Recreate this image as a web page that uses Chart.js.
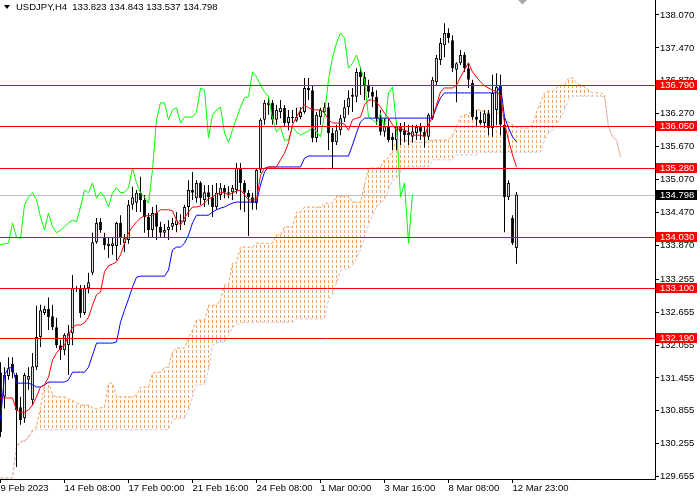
<!DOCTYPE html>
<html>
  <head>
    <meta charset="utf-8" />
    <title>USDJPY,H4</title>
    <style>
      html, body { margin: 0; padding: 0; background: #fff; }
      #wrap { width: 700px; height: 500px; }
    </style>
  </head>
  <body>
    <div id="wrap"><canvas id="chart" width="700" height="500"></canvas></div>
    <script src="https://cdn.jsdelivr.net/npm/chart.js"></script>
    <script>
      // H4 candles, bar 0 = 9 Feb 2023, bar 129 = 13 Mar 03:00
      const opens = [
        131.56,131.11,131.49,131.71,131.51,130.92,130.72,131.42,131.05,131.65,
        132.20,132.64,132.71,132.58,132.38,132.05,131.96,132.05,132.27,133.09,
        133.08,132.64,133.09,133.37,133.93,134.30,134.02,133.86,133.86,133.86,
        134.28,133.91,133.97,134.61,134.65,134.83,134.70,134.39,134.15,134.46,
        134.21,134.10,134.15,134.21,134.24,134.33,134.30,134.57,134.88,134.73,
        135.01,134.70,134.84,134.75,134.57,134.79,134.92,134.81,134.84,134.88,
        135.28,135.01,134.83,134.75,134.64,135.25,136.16,136.43,136.47,136.16,
        136.30,136.38,136.10,136.19,136.14,136.21,136.30,136.74,136.70,135.83,
        136.21,136.30,136.39,135.92,135.75,135.97,136.19,136.39,136.61,136.58,
        137.03,136.94,136.79,136.67,136.58,136.19,135.94,136.03,135.85,135.79,
        136.03,135.97,135.88,135.85,135.92,136.03,135.94,135.85,136.19,136.85,
        137.25,137.52,137.74,137.61,137.07,137.19,137.34,137.10,136.83,136.21,
        136.16,136.10,136.28,136.01,136.34,136.79,136.07,134.75,134.37,133.823
      ];
      const highs = [
        131.74,131.65,131.83,131.83,131.55,131.11,131.55,131.65,131.91,132.77,
        132.79,132.77,132.92,132.79,132.55,132.15,132.27,132.42,133.33,133.13,
        133.15,133.15,133.37,134.10,134.37,134.37,134.10,134.01,134.02,134.30,
        134.42,134.08,134.70,134.94,134.88,135.12,134.79,134.46,134.57,134.61,
        134.30,134.26,134.33,134.37,134.48,134.44,134.61,135.06,135.21,135.06,
        135.04,134.97,134.97,134.97,135.01,135.01,134.97,134.95,134.97,135.37,
        135.37,135.06,134.88,134.83,135.28,136.19,136.52,136.56,136.52,136.43,
        136.52,136.43,136.34,136.34,136.38,136.39,136.92,136.92,136.79,136.30,
        136.38,136.47,136.47,136.01,136.07,136.25,136.52,136.70,136.74,137.10,
        137.12,137.03,136.89,136.76,136.70,136.34,136.19,136.19,135.92,136.12,
        136.10,136.12,136.07,136.07,136.07,136.10,136.03,136.28,136.94,137.34,
        137.65,137.92,137.83,137.70,137.21,137.43,137.39,137.19,136.89,136.34,
        136.30,136.34,136.34,136.98,137.01,136.98,136.19,135.06,134.42,134.843
      ];
      const lows = [
        130.38,130.90,131.42,131.45,129.83,130.60,130.64,131.24,130.96,131.60,
        132.02,132.60,132.33,132.33,132.00,131.78,131.87,131.51,132.05,133.02,
        132.55,132.60,133.00,133.33,133.90,134.10,133.79,133.64,133.70,133.60,
        133.88,133.75,133.90,134.52,134.48,134.48,134.10,134.02,134.02,133.97,
        134.01,134.01,133.97,134.15,134.11,134.15,134.24,134.39,134.70,134.65,
        134.61,134.57,134.61,134.39,134.52,134.70,134.73,134.73,134.70,134.81,
        134.52,134.48,134.04,134.52,134.52,135.19,136.07,136.25,136.07,136.07,
        136.19,136.03,135.97,136.10,136.12,136.17,136.27,136.52,135.75,135.75,
        136.07,136.25,135.61,135.28,135.70,135.88,136.12,136.25,136.30,136.48,
        136.61,136.52,136.56,136.39,136.07,135.88,135.85,135.75,135.61,135.61,
        135.70,135.75,135.70,135.74,135.79,135.79,135.65,135.79,136.16,136.79,
        137.16,137.30,137.56,137.03,136.48,137.16,137.03,136.74,136.16,136.03,
        136.07,136.01,135.88,135.85,136.07,135.88,134.11,134.70,133.88,133.537
      ];
      const closes = [
        130.47,131.51,131.63,131.56,130.87,130.69,131.51,131.49,131.67,132.20,
        132.69,132.71,132.56,132.38,132.05,131.96,132.24,132.27,133.09,133.08,
        132.64,133.09,133.20,133.93,134.28,134.15,133.88,133.90,133.91,134.28,
        134.02,134.00,134.61,134.75,134.83,134.70,134.39,134.15,134.46,134.21,
        134.10,134.15,134.21,134.28,134.33,134.30,134.57,134.88,134.83,135.01,
        134.73,134.84,134.75,134.57,134.83,134.92,134.83,134.84,134.92,135.28,
        135.01,134.83,134.75,134.64,135.25,136.16,136.47,136.47,136.16,136.34,
        136.38,136.10,136.21,136.21,136.21,136.30,136.74,136.70,135.83,136.25,
        136.34,136.39,135.92,135.75,135.97,136.19,136.39,136.56,136.58,137.03,
        136.94,136.79,136.67,136.58,136.19,135.94,136.03,135.79,135.79,136.03,
        135.94,135.88,135.92,135.95,136.03,135.94,135.85,136.25,136.89,137.29,
        137.56,137.74,137.65,137.10,137.19,137.34,137.10,136.89,136.21,136.16,
        136.10,136.28,136.01,136.65,136.76,136.07,134.75,135.01,133.91,134.798
      ];

      // Ichimoku lines
      const tenkan = [
        131.09,131.09,131.09,131.09,130.87,130.83,130.83,130.87,130.96,131.11,
        131.29,131.33,131.47,131.78,131.91,132.00,132.05,132.24,132.38,132.42,
        132.42,132.46,132.56,132.78,132.97,133.02,133.39,133.50,133.53,133.57,
        133.70,133.91,134.10,134.21,134.30,134.37,134.41,134.41,134.42,134.46,
        134.52,134.52,134.52,134.50,134.33,134.24,134.37,134.48,134.57,134.57,
        134.59,134.64,134.72,134.75,134.81,134.83,134.83,134.79,134.83,134.86,
        134.88,134.79,134.70,134.70,134.70,135.15,135.28,135.30,135.30,135.30,
        135.43,135.55,135.74,136.07,136.21,136.34,136.43,136.38,136.34,136.34,
        136.34,136.28,136.16,136.10,136.10,136.10,136.08,135.97,136.16,136.19,
        136.21,136.43,136.52,136.52,136.48,136.39,136.28,136.19,136.07,135.97,
        136.01,135.97,135.94,135.88,135.88,135.88,135.85,136.07,136.21,136.43,
        136.67,136.74,136.74,136.74,136.79,136.94,137.07,137.20,137.03,136.94,
        136.85,136.78,136.74,136.70,136.67,136.61,136.10,135.79,135.52,135.30
      ];
      const kijun = [
        130.69,131.51,131.64,131.64,131.36,131.36,131.36,131.36,131.33,131.29,
        131.29,131.33,131.38,131.38,131.38,131.38,131.38,131.42,131.56,131.56,
        131.56,131.56,131.65,131.87,132.09,132.09,132.09,132.09,132.09,132.11,
        132.47,132.69,132.89,133.11,133.29,133.31,133.31,133.31,133.31,133.31,
        133.31,133.31,133.42,133.79,133.84,133.84,133.91,134.06,134.28,134.42,
        134.42,134.42,134.42,134.48,134.52,134.55,134.57,134.61,134.64,134.66,
        134.66,134.66,134.66,134.66,134.66,134.97,135.21,135.30,135.30,135.30,
        135.30,135.30,135.30,135.30,135.30,135.30,135.46,135.50,135.50,135.50,
        135.50,135.50,135.50,135.50,135.50,135.50,135.50,135.50,135.70,135.92,
        136.12,136.19,136.19,136.19,136.19,136.19,136.19,136.19,136.19,136.19,
        136.19,136.19,136.19,136.19,136.19,136.19,136.19,136.19,136.19,136.39,
        136.56,136.65,136.65,136.65,136.65,136.65,136.65,136.65,136.65,136.65,
        136.65,136.65,136.65,136.65,136.65,136.78,136.21,136.01,135.85,135.76
      ];
      // cloud, already drawn 26 bars ahead (bars 0..155)
      const senkouA = [
        129.63,129.63,129.63,129.63,130.19,130.29,130.32,130.36,130.51,130.56,
        130.92,131.33,131.38,131.14,131.11,131.11,131.11,131.07,131.05,131.00,
        130.96,130.96,130.96,130.91,130.89,130.91,130.92,131.36,131.36,131.11,
        131.11,131.11,131.11,131.11,131.14,131.29,131.29,131.29,131.54,131.56,
        131.56,131.65,131.65,131.93,132.00,132.00,132.00,132.18,132.33,132.51,
        132.51,132.51,132.78,132.78,132.78,132.88,133.15,133.15,133.55,133.55,
        133.84,133.84,133.84,133.84,133.91,133.91,133.91,133.91,133.91,134.06,
        134.06,134.21,134.21,134.21,134.48,134.48,134.57,134.57,134.57,134.57,
        134.57,134.64,134.64,134.64,134.77,134.77,134.77,134.77,134.66,134.66,
        134.66,134.97,135.28,135.28,135.28,135.30,135.43,135.46,135.61,135.79,
        135.79,135.79,135.77,135.77,135.75,135.75,135.75,135.77,135.79,135.79,
        135.79,135.79,135.79,135.88,136.03,136.21,136.25,136.25,136.34,136.34,
        136.34,136.30,136.30,136.30,136.28,136.28,136.16,136.12,136.07,136.03,
        136.01,136.01,136.01,136.07,136.30,136.47,136.65,136.68,136.68,136.74,
        136.79,136.79,136.92,136.92,136.83,136.79,136.76,136.70,136.65,136.65,
        136.65,136.61,136.03,135.85,135.79,135.48
      ];
      const senkouB = [
        129.63,129.63,129.63,129.63,130.23,130.29,130.29,130.40,130.47,130.51,
        130.51,130.51,130.51,130.51,130.51,130.51,130.51,130.51,130.51,130.51,
        130.51,130.51,130.51,130.51,130.51,130.51,130.51,130.51,130.51,130.51,
        130.51,130.51,130.51,130.51,130.51,130.51,130.51,130.51,130.51,130.51,
        130.51,130.51,130.51,130.69,130.72,130.72,130.72,130.87,131.11,131.33,
        131.33,131.33,131.60,132.05,132.09,132.11,132.11,132.24,132.38,132.42,
        132.46,132.47,132.47,132.47,132.47,132.47,132.47,132.47,132.47,132.47,
        132.47,132.47,132.47,132.47,132.53,132.53,132.53,132.53,132.53,132.53,
        132.53,132.53,132.88,132.97,133.19,133.42,133.44,133.44,133.51,133.64,
        133.79,134.02,134.24,134.42,134.57,134.64,134.70,134.88,135.06,135.10,
        135.21,135.28,135.30,135.30,135.30,135.30,135.30,135.30,135.43,135.43,
        135.43,135.43,135.43,135.43,135.52,135.52,135.52,135.52,135.52,135.52,
        135.57,135.57,135.57,135.57,135.57,135.57,135.57,135.57,135.57,135.57,
        135.57,135.57,135.57,135.57,135.57,135.57,135.79,135.92,135.97,136.07,
        136.19,136.34,136.52,136.59,136.59,136.59,136.59,136.59,136.59,136.59,
        136.59,136.58,136.03,135.85,135.79,135.48
      ];

      const levels = [136.79, 136.05, 135.28, 134.03, 133.1, 132.19];
      const priceTicks = [138.07, 137.47, 136.87, 136.27, 135.67, 135.07, 134.47, 133.87,
        133.255, 132.655, 132.055, 131.455, 130.855, 130.255, 129.655];
      const dateTickIdx = [0, 16, 32, 48, 64, 80, 96, 112, 128];
      const dateLabels = ["9 Feb 2023", "14 Feb 08:00", "17 Feb 00:00", "21 Feb 16:00",
        "24 Feb 08:00", "1 Mar 00:00", "3 Mar 16:00", "8 Mar 08:00", "12 Mar 23:00"];

      const last = closes.length - 1;
      const FONT = "9.5px 'Liberation Sans'";
      Chart.defaults.font.family = "'Liberation Sans'";
      Chart.defaults.font.size = 9.5;
      Chart.defaults.color = "#000";

      const canvas = document.getElementById("chart");
      const ctx0 = canvas.getContext("2d");
      // vertical dotted hatch, one column per bar
      function hatch(color) {
        const c = document.createElement("canvas");
        c.width = 4;
        c.height = 5;
        const g = c.getContext("2d");
        g.fillStyle = color;
        g.fillRect(0, 0, 1, 3);
        return ctx0.createPattern(c, "repeat");
      }

      const pts = (arr) => arr.map((v, i) => ({ x: i, y: v }));
      const noPad = (s) => {
        s.paddingTop = 0;
        s.paddingBottom = 0;
        s.paddingLeft = 0;
        s.paddingRight = 0;
      };

      const overlay = {
        id: "overlay",
        beforeDatasetsDraw(chart) {
          const { ctx, chartArea: a, scales: { y } } = chart;
          const py = Math.round(y.getPixelForValue(closes[last])) + 0.5;
          ctx.save();
          ctx.strokeStyle = "#c0c0c0";
          ctx.lineWidth = 1;
          ctx.beginPath();
          ctx.moveTo(a.left, py);
          ctx.lineTo(a.right, py);
          ctx.stroke();
          ctx.restore();
        },
        afterDatasetsDraw(chart) {
          const { ctx, chartArea: a, scales: { y } } = chart;
          ctx.save();
          ctx.strokeStyle = "#ff0000";
          ctx.lineWidth = 1;
          for (const v of levels) {
            const py = Math.round(y.getPixelForValue(v)) + 0.5;
            ctx.beginPath();
            ctx.moveTo(a.left, py);
            ctx.lineTo(a.right, py);
            ctx.stroke();
          }
          ctx.restore();
        },
        afterDraw(chart) {
          const { ctx, chartArea: a, scales: { x, y } } = chart;
          ctx.save();
          ctx.font = FONT;
          ctx.textBaseline = "middle";
          ctx.textAlign = "left";
          const box = (v, bg) => {
            const py = Math.round(y.getPixelForValue(v));
            ctx.fillStyle = bg;
            ctx.fillRect(a.right + 1, py - 5, 41, 10);
            ctx.fillStyle = "#fff";
            ctx.fillText(v.toFixed(3), a.right + 5, py + 0.5);
          };
          levels.forEach((v) => box(v, "#ff0000"));
          box(closes[last], "#000");

          // header
          ctx.fillStyle = "#000";
          ctx.beginPath();
          ctx.moveTo(4, 5);
          ctx.lineTo(10, 5);
          ctx.lineTo(7, 9);
          ctx.closePath();
          ctx.fill();
          const head = "USDJPY,H4  " + [opens[last], highs[last], lows[last], closes[last]]
            .map((v) => v.toFixed(3)).join(" ");
          ctx.fillText(head, 16, 7.5);

          // shift marker
          const sx = x.getPixelForValue(last + 1.5);
          ctx.fillStyle = "#a9a9a9";
          ctx.beginPath();
          ctx.moveTo(sx - 4.5, 0);
          ctx.lineTo(sx + 4.5, 0);
          ctx.lineTo(sx, 4.5);
          ctx.closePath();
          ctx.fill();
          ctx.restore();
        },
      };

      new Chart(canvas, {
        type: "line",
        data: {
          datasets: [
            {
              label: "Senkou A",
              data: pts(senkouA),
              borderColor: "#f4a460",
              borderWidth: 1,
              borderDash: [3, 2],
              pointRadius: 0,
              fill: { target: "+1", above: hatch("#f4a460"), below: hatch("#d8bfd8") },
              order: 10,
            },
            {
              label: "Senkou B",
              data: pts(senkouB),
              borderColor: "#d8bfd8",
              borderWidth: 1,
              borderDash: [3, 2],
              pointRadius: 0,
              fill: false,
              order: 9,
            },
            {
              type: "bar",
              label: "wick",
              data: highs.map((h, i) => ({ x: i, y: [lows[i], h] })),
              backgroundColor: "#000",
              borderWidth: 0,
              grouped: false,
              maxBarThickness: 1,
              inflateAmount: 0,
              order: 6,
            },
            {
              type: "bar",
              label: "body",
              data: opens.map((o, i) => ({ x: i, y: [o, closes[i]] })),
              backgroundColor: (c) => (closes[c.dataIndex] >= opens[c.dataIndex] ? "#fff" : "#000"),
              borderColor: "#000",
              borderWidth: 1,
              borderSkipped: false,
              grouped: false,
              maxBarThickness: 3,
              minBarLength: 1,
              inflateAmount: 0,
              order: 5,
            },
            {
              label: "Chikou",
              data: pts(closes.slice(26)),
              borderColor: "#00ff00",
              borderWidth: 1,
              pointRadius: 0,
              order: 3,
            },
            {
              label: "Kijun",
              data: pts(kijun),
              borderColor: "#0000ff",
              borderWidth: 1,
              pointRadius: 0,
              order: 2,
            },
            {
              label: "Tenkan",
              data: pts(tenkan),
              borderColor: "#ff0000",
              borderWidth: 1,
              pointRadius: 0,
              order: 1,
            },
          ],
        },
        options: {
          responsive: false,
          devicePixelRatio: 1,
          animation: false,
          events: [],
          layout: { padding: 0 },
          plugins: { legend: { display: false }, tooltip: { enabled: false } },
          scales: {
            x: {
              type: "linear",
              min: -0.125,
              max: 163.625,
              offset: false,
              afterBuildTicks: (s) => {
                s.ticks = dateTickIdx.map((v) => ({ value: v }));
              },
              afterFit: (s) => {
                s.height = 21;
                noPad(s);
              },
              ticks: {
                autoSkip: false,
                maxRotation: 0,
                align: "start",
                padding: 0,
                callback: (v) => dateLabels[dateTickIdx.indexOf(v)],
              },
              grid: { drawOnChartArea: false, tickLength: 4, color: "#000", offset: false },
              border: { color: "#000" },
            },
            y: {
              type: "linear",
              position: "right",
              min: 129.613,
              max: 138.343,
              beginAtZero: false,
              afterBuildTicks: (s) => {
                s.ticks = priceTicks.map((v) => ({ value: v }));
              },
              afterFit: (s) => {
                s.width = 45;
                noPad(s);
              },
              ticks: { padding: 1, callback: (v) => v.toFixed(3) },
              grid: { drawOnChartArea: false, tickLength: 4, color: "#000" },
              border: { color: "#000" },
            },
          },
        },
        plugins: [overlay],
      });
    </script>
  </body>
</html>
